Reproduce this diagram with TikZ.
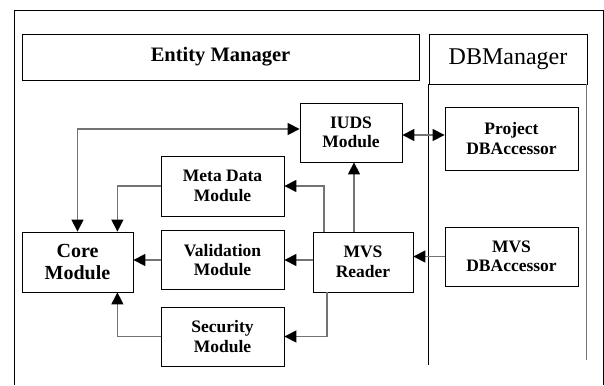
\documentclass[tikz,border=0pt]{standalone}
\usepackage{fontspec}
\setmainfont{Liberation Serif}
\usetikzlibrary{arrows.meta}

\begin{document}
\begin{tikzpicture}[
  x=1pt, y=-1pt,
  box/.style={draw, thick, rectangle, inner sep=0pt, align=center, font=\fontsize{17.5}{19.5}\selectfont\bfseries},
  edge/.style={-{Triangle[length=12pt,width=12pt,color=black]}, draw=black!55, line width=1.3pt},
  biedge/.style={{Triangle[length=12pt,width=12pt,color=black]}-{Triangle[length=12pt,width=12pt,color=black]}, draw=black!55, line width=1.3pt}
]
\useasboundingbox (0,0) rectangle (604,385);

% outer frame
\draw[thick] (14,385) -- (14,10) -- (603,10) -- (603,385);

% headers
\node[box, minimum width=397pt, minimum height=46pt, font=\fontsize{20.5}{23}\selectfont\bfseries] (entity) at (220.5,57) {Entity Manager};
\node[box, minimum width=158pt, minimum height=50pt, font=\fontsize{24}{26}\selectfont] (dbm) at (508,59) {DBManager};

% DB lane
\draw[thick] (dbm.south west) -- ++(0,281);
\draw[line width=1.3pt, black!55] ([xshift=-1pt]dbm.south east) -- ++(0,276);

% Entity Manager modules
\node[box, minimum width=102pt, minimum height=59pt] (iuds) at (351,132.5) {IUDS\\Module};
\node[box, minimum width=123pt, minimum height=60pt] (meta) at (222.5,186) {Meta Data\\Module};
\node[box, minimum width=123pt, minimum height=59pt] (val) at (222.5,260) {Validation\\Module};
\node[box, minimum width=123pt, minimum height=59pt] (sec) at (222.5,336.5) {Security\\Module};
\node[box, minimum width=111pt, minimum height=60pt, font=\fontsize{20}{22.5}\selectfont\bfseries] (core) at (77.5,262) {Core\\Module};
\node[box, minimum width=100pt, minimum height=60pt] (mvs) at (363,262) {MVS\\Reader};

% DB Manager modules
\node[box, minimum width=133pt, minimum height=63pt] (pdb) at (511.5,138.5) {Project\\DBAccessor};
\node[box, minimum width=133pt, minimum height=59pt] (mvsdb) at (511.5,256.5) {MVS\\DBAccessor};

% connections to Core Module
\draw[biedge] (core.north) |- ([yshift=3.5pt]iuds.west);
\draw[edge] (meta.west) -| ([xshift=-16pt]core.north east);
\draw[edge] (val.west) -- (val.west -| core.east);
\draw[edge] (sec.west) -| ([xshift=-16pt]core.south east);

% connections from MVS Reader
\draw[edge] ([xshift=-39pt]mvs.north) |- (meta.east);
\draw[edge] ([xshift=-9pt]mvs.north) -- ([xshift=-9pt]mvs.north |- iuds.south);
\draw[edge] (val.east -| mvs.west) -- (val.east);
\draw[edge] ([xshift=-36pt]mvs.south) |- (sec.east);

% DB accessors
\draw[edge] (mvsdb.west) -- (mvsdb.west -| mvs.east);
\draw[biedge] ([yshift=-2.5pt]iuds.east) -- ([yshift=-2.5pt]iuds.east -| pdb.west);

\end{tikzpicture}
\end{document}
